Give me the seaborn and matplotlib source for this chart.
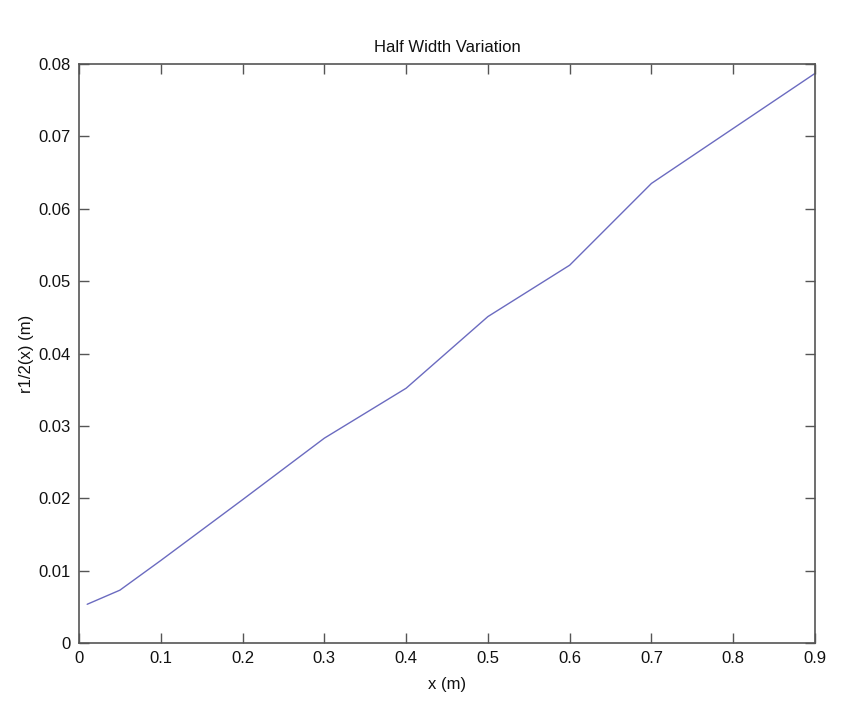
import matplotlib
matplotlib.use("Agg")
import matplotlib.pyplot as plt
import seaborn as sns
import pandas as pd

x_vals = [0.01, 0.05, 0.1, 0.2, 0.3, 0.4, 0.5, 0.6, 0.7, 0.8, 0.9]
r_half = [0.00535, 0.0073, 0.0114, 0.0198, 0.0283, 0.0352, 0.0451, 0.0522, 0.0635, 0.0711, 0.0787]
x_ticks = [0, 0.1, 0.2, 0.3, 0.4, 0.5, 0.6, 0.7, 0.8, 0.9]
x_ticklabels = ["0", "0.1", "0.2", "0.3", "0.4", "0.5", "0.6", "0.7", "0.8", "0.9"]
y_ticks = [0, 0.01, 0.02, 0.03, 0.04, 0.05, 0.06, 0.07, 0.08]
y_ticklabels = ["0", "0.01", "0.02", "0.03", "0.04", "0.05", "0.06", "0.07", "0.08"]

df = pd.DataFrame({"x": x_vals, "r": r_half})

sns.set_theme(style="white")
plt.rcParams['font.family'] = ['Liberation Sans', 'DejaVu Sans']

fig = plt.figure(figsize=(8.58, 7.06), dpi=100)
ax = fig.add_axes([79/858, 1 - 643/706, (815-79)/858, (643-64)/706])
sns.lineplot(data=df, x="x", y="r", ax=ax, color="#6b6bc0", linewidth=1.0)

ax.set_xlim(0, 0.9)
ax.set_ylim(0, 0.08)
ax.set_xticks(x_ticks)
ax.set_xticklabels(x_ticklabels)
ax.set_yticks(y_ticks)
ax.set_yticklabels(y_ticklabels)
ax.tick_params(axis='both', which='both', direction='in', length=7, width=1,
               color='#555555', labelsize=12, labelcolor='#111111',
               top=True, right=True, bottom=True, left=True, pad=6)
for s in ax.spines.values():
    s.set_visible(True)
    s.set_color('#555555')
    s.set_linewidth(1.2)
ax.grid(False)

ax.set_title("Half Width Variation", fontsize=12, color='#111111', pad=9)
ax.set_xlabel("x (m)", fontsize=12, color='#111111', labelpad=8)
ax.set_ylabel("r1/2(x) (m)", fontsize=12, color='#111111', labelpad=3)

fig.savefig("out.png", dpi=100, facecolor="white")
